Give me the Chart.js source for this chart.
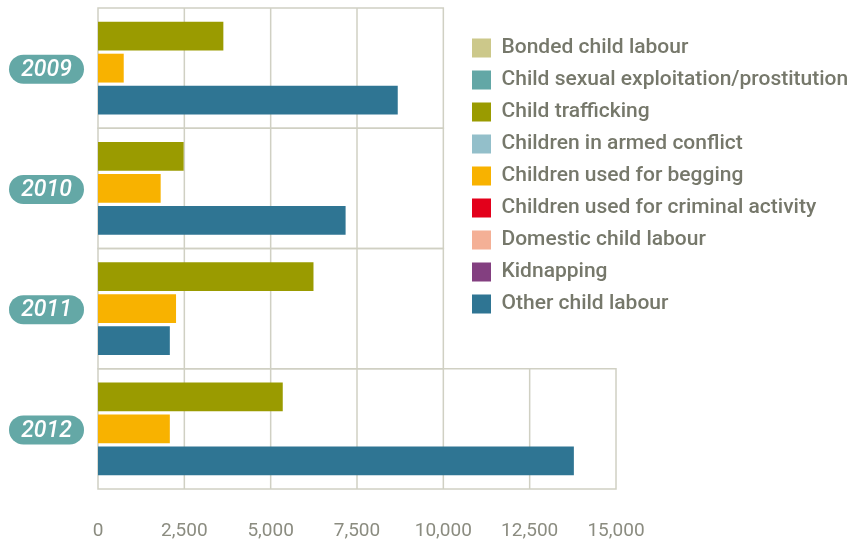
<!DOCTYPE html>
<html>
<head>
<meta charset="utf-8">
<script src="https://cdn.jsdelivr.net/npm/chart.js@4"></script>
<style>
  html, body { margin: 0; padding: 0; background: #fff; }
  #wrap { width: 860px; height: 539px; }
</style>
</head>
<body>
<div id="wrap"><canvas id="bar-chart"></canvas></div>
<script>
// chart data
const years = ['2009', '2010', '2011', '2012'];
const seriesNames = [
    'Bonded child labour',
    'Child sexual exploitation/prostitution',
    'Child trafficking',
    'Children in armed conflict',
    'Children used for begging',
    'Children used for criminal activity',
    'Domestic child labour',
    'Kidnapping',
    'Other child labour'
];
const seriesColors = ['#ccc88a', '#63a7a6', '#9a9b00', '#93bfca', '#f8b200', '#e3001b', '#f4b096', '#833f80', '#2f7593'];

const bondedChildLabour = [null, null, null, null];
const childSexualExploitation = [null, null, null, null];
const childTrafficking = [3630, 2480, 6240, 5350];
const childrenInArmedConflict = [null, null, null, null];
const childrenUsedForBegging = [745, 1815, 2260, 2080];
const childrenUsedForCrime = [null, null, null, null];
const domesticChildLabour = [null, null, null, null];
const kidnapping = [null, null, null, null];
const otherChildLabour = [8680, 7170, 2080, 13780];

const seriesValues = [
    bondedChildLabour, childSexualExploitation, childTrafficking,
    childrenInArmedConflict, childrenUsedForBegging, childrenUsedForCrime,
    domesticChildLabour, kidnapping, otherChildLabour
];
const xTicks = [0, 2500, 5000, 7500, 10000, 12500, 15000];

const FONT = 'Roboto, "Liberation Sans", "DejaVu Sans", sans-serif';
const GRID = '#d0d0c3';

// boxed grid per year, wide as that year needs
const rowBoxes = {
    id: 'rowBoxes',
    beforeDatasetsDraw(chart) {
        const { ctx, chartArea } = chart;
        const x = chart.scales.x, y = chart.scales.y;
        const rowH = y.getPixelForValue(1) - y.getPixelForValue(0);
        ctx.save();
        ctx.strokeStyle = GRID;
        ctx.lineWidth = 1.5;
        years.forEach((yr, i) => {
            let rowMax = 0;
            seriesValues.forEach(s => { if (s[i] != null && s[i] > rowMax) rowMax = s[i]; });
            const ext = Math.ceil(rowMax / 5000) * 5000;
            const top = y.getPixelForValue(i) - rowH / 2;
            const right = x.getPixelForValue(ext);
            ctx.strokeRect(chartArea.left, top, right - chartArea.left, rowH);
            xTicks.forEach(t => {
                if (t > 0 && t < ext) {
                    const px = x.getPixelForValue(t);
                    ctx.beginPath();
                    ctx.moveTo(px, top);
                    ctx.lineTo(px, top + rowH);
                    ctx.stroke();
                }
            });
        });
        ctx.restore();
    }
};

// teal pills with the year
const yearPills = {
    id: 'yearPills',
    afterDraw(chart) {
        const { ctx } = chart;
        const y = chart.scales.y;
        ctx.save();
        years.forEach((yr, i) => {
            const cy = y.getPixelForValue(i) + 1;
            const h = 29, left = 9, w = 75, r = h / 2;
            ctx.fillStyle = '#64a8a6';
            ctx.beginPath();
            ctx.moveTo(left + r, cy - r);
            ctx.lineTo(left + w - r, cy - r);
            ctx.arc(left + w - r, cy, r, -Math.PI / 2, Math.PI / 2);
            ctx.lineTo(left + r, cy + r);
            ctx.arc(left + r, cy, r, Math.PI / 2, Math.PI * 1.5);
            ctx.closePath();
            ctx.fill();
            ctx.fillStyle = '#ffffff';
            ctx.font = 'italic 500 23px ' + FONT;
            ctx.textAlign = 'center';
            ctx.textBaseline = 'middle';
            ctx.fillText(yr, left + w / 2, cy + 1);
        });
        ctx.restore();
    }
};

// put the legend at the right, over the empty part of the plot
const legendSpot = {
    id: 'legendSpot',
    afterLayout(chart) {
        const lg = chart.legend;
        lg.left = 461;
        lg.top = 26.5;
        lg.right = 860;
        lg.bottom = 26.5 + 9 * 32 + 40;
    }
};

new Chart(document.getElementById('bar-chart'), {
    type: 'bar',
    data: {
        labels: years,
        datasets: seriesNames.map((name, i) => ({
            label: name,
            data: seriesValues[i],
            backgroundColor: seriesColors[i],
            borderWidth: 0,
            skipNull: true,
            categoryPercentage: 0.8,
            barPercentage: 0.9
        }))
    },
    options: {
        indexAxis: 'y',
        responsive: true,
        maintainAspectRatio: false,
        animation: false,
        layout: { padding: { left: 98, top: 8, right: 244, bottom: 0 } },
        scales: {
            x: {
                min: 0,
                max: 15000,
                grid: { display: false },
                border: { display: false },
                afterFit: s => { s.height = 50; },
                ticks: {
                    stepSize: 2500,
                    padding: 23,
                    color: '#8b8c80',
                    font: { family: FONT, size: 19 },
                    callback: v => v.toLocaleString('en-US')
                }
            },
            y: {
                display: false
            }
        },
        plugins: {
            tooltip: { enabled: false },
            legend: {
                position: 'chartArea',
                align: 'start',
                labels: {
                    boxWidth: 19,
                    boxHeight: 19,
                    padding: 11,
                    color: '#76786b',
                    font: { family: FONT, size: 21, weight: '500' }
                }
            }
        }
    },
    plugins: [rowBoxes, yearPills, legendSpot]
});
</script>
</body>
</html>
